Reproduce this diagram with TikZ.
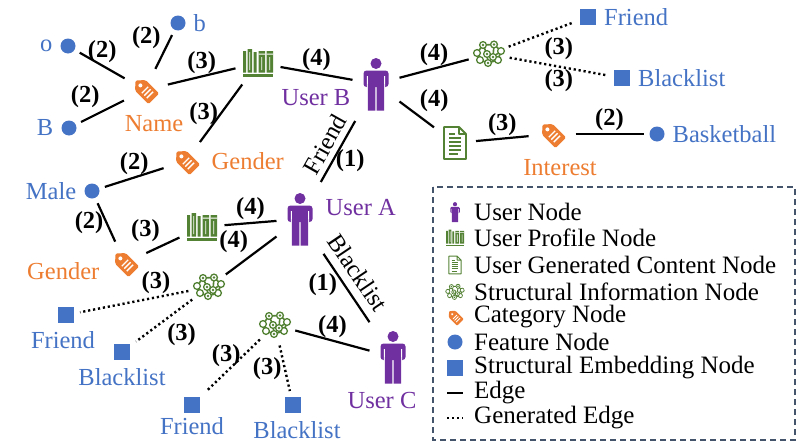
\documentclass[tikz,border=0pt]{standalone}
\usepackage{fontspec}
\setmainfont{Liberation Serif}
\usepackage{tikz}
\usetikzlibrary{positioning}
\definecolor{uc}{RGB}{112, 48, 160}
\definecolor{gc}{RGB}{84, 130, 53}
\definecolor{oc}{RGB}{237, 125, 49}
\definecolor{bc}{RGB}{68, 114, 196}
\definecolor{lc}{RGB}{68, 84, 106}
\newcommand{\lfont}{\fontsize{24.5}{29}\selectfont}

\tikzset{
  usernode/.style={inner sep=0pt, minimum width=27pt*#1, minimum height=54pt*#1, outer sep=10pt,
    path picture={\begin{scope}[shift={(path picture bounding box.center)}, x=#1pt, y=#1pt]
      \fill[uc] (0,20.5) circle (5.5);
      \fill[uc, rounded corners=3pt*#1] (-12.5,-3) rectangle (12.5,13.5);
      \fill[white] (-9.2,8) rectangle (-8.2,-4) (8.2,8) rectangle (9.2,-4);
      \fill[uc] (-8.2,0) rectangle (-0.6,-26.5) (0.6,0) rectangle (8.2,-26.5);
    \end{scope}}},
  usernode/.default=1,
  profnode/.style={inner sep=0pt, minimum width=31pt*#1, minimum height=29pt*#1, outer sep=7pt,
    path picture={\begin{scope}[shift={(path picture bounding box.center)}, x=#1pt, y=#1pt]
      \fill[gc] (-15,-14) rectangle (15,-11);
      \fill[gc] (-15,-9.5) rectangle (-12,12) (-10.5,-9.5) rectangle (-6,14) (-4.5,-9.5) rectangle (-1.5,11)
        (0.5,-9.5) rectangle (7,12) (8.5,-9.5) rectangle (15,12);
      \fill[white] (-8.7,11) rectangle (-7.8,-7) (0.5,9.5) rectangle (7,8.5) (3.3,6) rectangle (4.2,-7)
        (8.5,9.5) rectangle (15,8.5) (11.3,6) rectangle (12.2,-7);
    \end{scope}}},
  profnode/.default=1,
  ugcnode/.style={inner sep=0pt, minimum width=26pt*#1, minimum height=35pt*#1, outer sep=8pt,
    path picture={\begin{scope}[shift={(path picture bounding box.center)}, x=#1pt, y=#1pt]
      \draw[gc, line width=1.8pt*#1, line join=round] (-11,-16) -- (-11,16) -- (4,16) -- (11,9) -- (11,-16) -- cycle
        (4,16) -- (4,9) -- (11,9);
      \draw[gc, line width=1.5pt*#1] (-6,9) -- (0,9) (-6,5) -- (6,5) (-6,1) -- (6,1) (-6,-3) -- (6,-3)
        (-6,-7) -- (6,-7) (-6,-11) -- (3,-11);
    \end{scope}}},
  ugcnode/.default=1,
  structnode/.style={circle, inner sep=0pt, minimum size=34pt*#1, outer sep=4pt,
    path picture={\begin{scope}[shift={(path picture bounding box.center)}, x=#1pt, y=#1pt]
      \draw[gc, line width=1.6pt*#1] (-12,1) -- (-6,9) -- (5,9.5) -- (12,3) -- (9,-6) -- (-1,-9) -- (-9,-6) -- cycle
        (-6,9) -- (-2,0) -- (4,-3) -- (12,3) (-2,0) -- (-1,-9) (5,9.5) -- (4,-3);
      \foreach \x/\y in {-12/1, -6/9, 5/9.5, 12/3, 9/-6, -1/-9, -9/-6, -2/0, 4/-3}
        \filldraw[gc, fill=white, line width=1.3pt*#1] (\x,\y) circle (3.4);
      \foreach \x/\y in {-6/9, 5/9.5, -2/0, 4/-3, -1/-9}
        \fill[gc] (\x,\y) circle (1.4);
    \end{scope}}},
  structnode/.default=1,
  catnode/.style={circle, inner sep=0pt, minimum size=31pt*#1, outer sep=8pt,
    path picture={\begin{scope}[shift={(path picture bounding box.center)},
        x={(0.707*#1pt, -0.707*#1pt)}, y={(0.707*#1pt, 0.707*#1pt)}]
      \fill[oc, rounded corners=1.5pt*#1] (-13.5,0) -- (-6.5,7.5) -- (12.5,7.5) -- (12.5,-7.5) -- (-6.5,-7.5) -- cycle;
      \fill[white] (-6.5,0) circle (2);
      \draw[white, line width=1.4pt*#1] (0,-4.5) -- (0,4.5) (3.5,-4.5) -- (3.5,4.5) (7,-4.5) -- (7,4.5);
    \end{scope}}},
  catnode/.default=1,
  featnode/.style={circle, fill=bc, minimum size=15pt, inner sep=0pt, outer sep=6pt},
  embnode/.style={rectangle, fill=bc, minimum size=16pt, inner sep=0pt, outer sep=6pt},
  edg/.style={line width=2.2pt, color=black},
  gedg/.style={line width=2.4pt, color=black, dash pattern=on 2.2pt off 2.8pt},
  lab/.style={font=\bfseries\lfont, inner sep=2pt},
  ftxt/.style={font=\lfont, text=bc, inner sep=2pt},
  otxt/.style={font=\lfont, text=oc, inner sep=2pt},
  utxt/.style={font=\lfont, text=uc, inner sep=2pt},
  legtxt/.style={font=\fontsize{25}{29}\selectfont, anchor=west, inner sep=0pt},
  legbox/.style={draw=lc, line width=1.5pt, dash pattern=on 6pt off 4pt}
}

\begin{document}
\begin{tikzpicture}
\useasboundingbox (0pt, 0pt) rectangle (808pt, -447pt);
% graph nodes
\node (1) [featnode, label={[ftxt]left:o}] at (68pt, -46pt) {};
\node (2) [featnode, label={[ftxt]right:b}] at (178pt, -23pt) {};
\node (3) [featnode, label={[ftxt]left:B}] at (69pt, -128pt) {};
\node (4) [catnode, label={[otxt, xshift=9pt]below:Name}] at (145pt, -90pt) {};
\node (5) [profnode] at (258pt, -63pt) {};
\node (6) [usernode, label={[utxt, yshift=-14pt]left:User B}] at (376pt, -84pt) {};
\node (7) [catnode, label={[otxt]right:Gender}] at (186pt, -161pt) {};
\node (8) [featnode, label={[ftxt]left:Male}] at (92pt, -191pt) {};
\node (9) [structnode] at (489pt, -54pt) {};
\node (10) [embnode, label={[ftxt]right:Friend}] at (588pt, -17pt) {};
\node (11) [embnode, label={[ftxt]right:Blacklist}] at (622pt, -78pt) {};
\node (12) [ugcnode] at (455pt, -143pt) {};
\node (13) [catnode, label={[otxt, xshift=8pt]below:Interest}] at (552pt, -134pt) {};
\node (14) [featnode, label={[ftxt]right:Basketball}] at (657pt, -134pt) {};
\node (15) [usernode, label={[utxt, yshift=11pt]right:User A}] at (300pt, -219pt) {};
\node (16) [catnode, label={[otxt, yshift=-8pt]left:Gender}] at (125pt, -263pt) {};
\node (17) [profnode] at (202pt, -227pt) {};
\node (18) [structnode] at (209pt, -287pt) {};
\node (19) [embnode, label={[ftxt, xshift=-3pt]below:Friend}] at (66pt, -315pt) {};
\node (20) [embnode, label={[ftxt]below:Blacklist}] at (122pt, -352pt) {};
\node (21) [usernode, label={[utxt, xshift=-11pt, yshift=4pt]below:User C}] at (393pt, -357pt) {};
\node (22) [structnode] at (275pt, -325pt) {};
\node (23) [embnode, label={[ftxt, yshift=4pt]below:Friend}] at (192pt, -405pt) {};
\node (24) [embnode, label={[ftxt, xshift=4pt]below:Blacklist}] at (293pt, -405pt) {};
% edges
\draw [edg] (1) to node[lab, above] {(2)} (4);
\draw [edg] (2) to node[lab, above left] {(2)} (4);
\draw [edg] (3) to node[lab, above left] {(2)} (4);
\draw [edg] (4) to node[lab, above] {(3)} (5);
\draw [edg] (5) to node[lab, above] {(4)} (6);
\draw [edg] (7) to node[lab, left] {(3)} (5);
\draw [edg] (8) to node[lab, above] {(2)} (7);
\draw [edg] (6) to node[font=\lfont, sloped, above=2pt] {Friend} node[lab, pos=0.65, right] {(1)} (15);
\draw [edg] (6) to node[lab, above] {(4)} (9);
\draw [gedg] (9) to node[lab, below right] {(3)} (10);
\draw [gedg] (9) to node[lab, below] {(3)} (11);
\draw [edg] (6) to node[lab, above right] {(4)} (12);
\draw [edg] (12) to node[lab, above] {(3)} (13);
\draw [edg] (13) to node[lab, above] {(2)} (14);
\draw [edg] (8) to node[lab, left] {(2)} (16);
\draw [edg] (16) to node[lab, above left] {(3)} (17);
\draw [edg] (17) to node[lab, above] {(4)} (15);
\draw [edg] (15) to node[lab, above left] {(4)} (18);
\draw [gedg] (18) to node[lab, pos=0.3, above] {(3)} (19);
\draw [gedg] (18) to node[lab, below right] {(3)} (20);
\draw [edg] (15) to node[font=\lfont, sloped, above=5pt, pos=0.42] {Blacklist} node[lab, pos=0.45, left=4pt] {(1)} (21);
\draw [edg] (22) to node[lab, above] {(4)} (21);
\draw [gedg] (22) to node[lab, pos=0.3, left] {(3)} (23);
\draw [gedg] (22) to node[lab, left] {(3)} (24);
% legend
\draw [legbox] (433pt, -187pt) rectangle (795pt, -440pt);
\node (25) [usernode=0.38] at (455pt, -212pt) {};
\node (26) [profnode=0.6] at (455pt, -238pt) {};
\node (27) [ugcnode=0.55] at (455pt, -265pt) {};
\node (28) [structnode=0.6] at (455pt, -292pt) {};
\node (29) [catnode=0.62] at (455pt, -317pt) {};
\node (30) [featnode] at (455pt, -342pt) {};
\node (31) [embnode] at (455pt, -368pt) {};
\coordinate (32) at (447pt, -393pt);
\coordinate (33) at (463pt, -393pt);
\coordinate (34) at (447pt, -418pt);
\coordinate (35) at (463pt, -418pt);
\draw [edg] (32) to (33);
\draw [gedg] (34) to (35);
\node (36) [legtxt] at (474pt, -212pt) {User Node};
\node (37) [legtxt] at (474pt, -238pt) {User Profile Node};
\node (38) [legtxt] at (474pt, -265pt) {User Generated Content Node};
\node (39) [legtxt] at (474pt, -292pt) {Structural Information Node};
\node (40) [legtxt] at (474pt, -317pt) {Category Node};
\node (41) [legtxt] at (474pt, -342pt) {Feature Node};
\node (42) [legtxt] at (474pt, -368pt) {Structural Embedding Node};
\node (43) [legtxt] at (474pt, -393pt) {Edge};
\node (44) [legtxt] at (474pt, -418pt) {Generated Edge};
\end{tikzpicture}
\end{document}
